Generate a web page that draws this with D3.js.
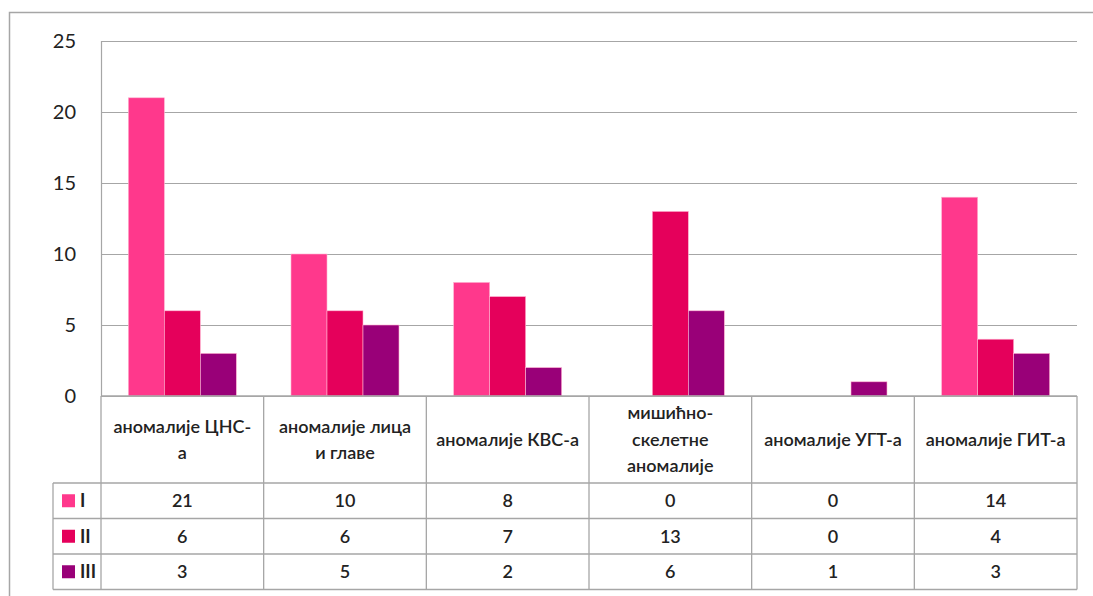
<!DOCTYPE html>
<html>
<head>
<meta charset="utf-8">
<script src="https://cdn.jsdelivr.net/npm/d3@7"></script>
<style>
  html, body { margin: 0; padding: 0; background: #fff; }
  svg { display: block; }
  text { font-family: Lato, "Open Sans", sans-serif; }
</style>
</head>
<body>
<svg id="chart" width="1093" height="596"></svg>
<script>
// Categories (header lines of the data table) and the three series
const categories = [
  ["аномалије ЦНС-", "а"],
  ["аномалије лица", "и главе"],
  ["аномалије КВС-а"],
  ["мишићно-", "скелетне", "аномалије"],
  ["аномалије УГТ-а"],
  ["аномалије ГИТ-а"]
];
const seriesNames = ["I", "II", "III"];
const seriesI   = [21, 10, 8, 0, 0, 14];
const seriesII  = [6, 6, 7, 13, 0, 4];
const seriesIII = [3, 5, 2, 6, 1, 3];
const yTicks = [0, 5, 10, 15, 20, 25];
const colors = ["#FF388C", "#E5005B", "#990078"];

const series = [seriesI, seriesII, seriesIII];

const svg = d3.select("#chart");
const gridColor = "#a6a6a6";

// Outer frame
svg.append("path")
  .attr("d", "M9.5,600 V12.5 H1100")
  .attr("fill", "none").attr("stroke", gridColor).attr("stroke-width", 1.5);

const plot = { left: 101, right: 1077, top: 41, bottom: 396 };

const x = d3.scaleBand()
  .domain(d3.range(categories.length))
  .range([plot.left, plot.right])
  .paddingInner(0).paddingOuter(0);

const y = d3.scaleLinear().domain([0, 25]).range([plot.bottom, plot.top]);

// Gridlines + y tick labels
const yAxis = d3.axisLeft(y).tickValues(yTicks).tickSize(-(plot.right - plot.left)).tickPadding(25);
const gy = svg.append("g").attr("transform", `translate(${plot.left},0)`).call(yAxis);
gy.select(".domain").remove();
gy.selectAll(".tick line").attr("stroke", gridColor).attr("stroke-width", 1.2);
gy.selectAll(".tick text")
  .attr("font-size", 20).attr("fill", "#222")
  .attr("font-family", "Lato, 'Open Sans', sans-serif");

// Left axis line of the plot area
svg.append("line")
  .attr("x1", plot.left + 0.5).attr("x2", plot.left + 0.5)
  .attr("y1", plot.top).attr("y2", plot.bottom)
  .attr("stroke", gridColor).attr("stroke-width", 1.2);

// Bars: three side-by-side bars centred in each category band
const barW = 36;
const groupW = barW * series.length;
series.forEach((vals, si) => {
  svg.append("g").selectAll("rect")
    .data(vals)
    .join("rect")
    .attr("x", (d, i) => x(i) + (x.bandwidth() - groupW) / 2 + si * barW)
    .attr("y", d => y(d))
    .attr("width", barW)
    .attr("height", d => y(0) - y(d))
    .attr("fill", colors[si])
    .attr("stroke", d => d > 0 ? "#ffb3d1" : "none")
    .attr("stroke-width", 0.6);
});

// Data table beneath the plot
const table = { top: 396, headerBottom: 483, rowH: 35.5, legendLeft: 53 };
const rowTops = d3.range(series.length).map(i => table.headerBottom + i * table.rowH);
const tableBottom = table.headerBottom + series.length * table.rowH;
const tg = svg.append("g");
const fs = 18;

// Horizontal lines
tg.append("line").attr("x1", plot.left).attr("x2", plot.right)
  .attr("y1", table.top).attr("y2", table.top);
[table.headerBottom, ...rowTops.slice(1), tableBottom].forEach(yy => {
  tg.append("line").attr("x1", table.legendLeft).attr("x2", plot.right)
    .attr("y1", yy).attr("y2", yy);
});
// Vertical lines
tg.append("line").attr("x1", table.legendLeft).attr("x2", table.legendLeft)
  .attr("y1", table.headerBottom).attr("y2", tableBottom);
d3.range(categories.length + 1).forEach(i => {
  const xx = i < categories.length ? x(i) : plot.right;
  tg.append("line").attr("x1", xx).attr("x2", xx)
    .attr("y1", table.top).attr("y2", tableBottom);
});
tg.selectAll("line").attr("stroke", gridColor).attr("stroke-width", 1.3);

// Header labels
const lineH = 26.5;
const headMid = (table.top + table.headerBottom) / 2;
categories.forEach((lines, i) => {
  const t = tg.append("text")
    .attr("x", x(i) + x.bandwidth() / 2)
    .attr("text-anchor", "middle")
    .attr("font-size", fs).attr("font-weight", 600).attr("fill", "#222");
  lines.forEach((ln, k) => {
    t.append("tspan")
      .attr("x", x(i) + x.bandwidth() / 2)
      .attr("y", headMid + (k - (lines.length - 1) / 2) * lineH)
      .attr("dy", "0.35em")
      .text(ln);
  });
});

// Rows: legend keys and values
series.forEach((vals, si) => {
  const mid = rowTops[si] + table.rowH / 2;
  tg.append("rect")
    .attr("x", 62).attr("y", mid - 6.5)
    .attr("width", 13).attr("height", 13)
    .attr("fill", colors[si]);
  tg.append("text")
    .attr("x", 80).attr("y", mid).attr("dy", "0.35em")
    .attr("font-size", fs).attr("font-weight", 700).attr("fill", "#222")
    .text(seriesNames[si]);
  vals.forEach((v, i) => {
    tg.append("text")
      .attr("x", x(i) + x.bandwidth() / 2)
      .attr("y", mid).attr("dy", "0.35em")
      .attr("text-anchor", "middle")
      .attr("font-size", fs).attr("font-weight", 600).attr("fill", "#222")
      .text(v);
  });
});
</script>
</body>
</html>
